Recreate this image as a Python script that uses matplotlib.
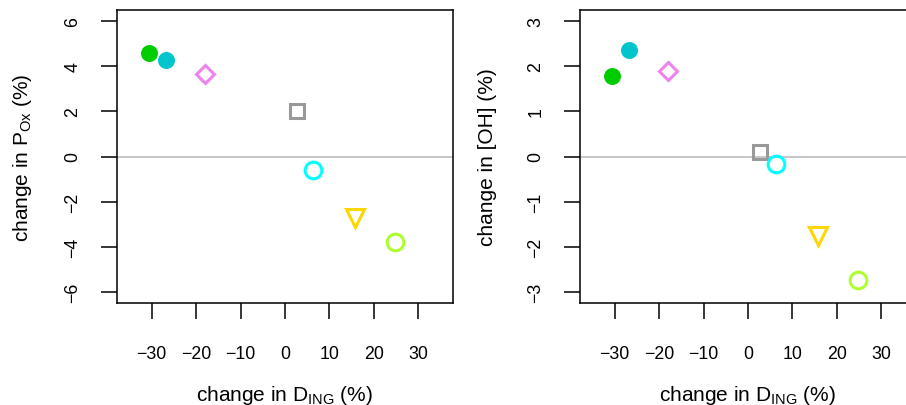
import matplotlib
matplotlib.use("Agg")
import matplotlib.pyplot as plt

plt.rcParams['font.family'] = ['Liberation Sans', 'DejaVu Sans']
plt.rcParams['mathtext.fontset'] = 'custom'
plt.rcParams['mathtext.rm'] = 'Liberation Sans'
plt.rcParams['mathtext.it'] = 'Liberation Sans'
plt.rcParams['axes.unicode_minus'] = True

# values
d_ing = [-30.6, -26.8, -18.0, 2.6, 6.3, 15.7, 24.8]
p_ox = [4.59, 4.26, 3.63, 2.01, -0.60, -2.70, -3.78]
oh = [1.78, 2.35, 1.89, 0.09, -0.16, -1.75, -2.74]

colors = ['#00CD00', '#00C5CD', '#EE82EE', '#999999', '#00FFFF', '#FFD700', '#ADFF2F']
markers = ['o', 'o', 'D', 's', 'o', 'v', 'o']
filled = [True, True, False, False, False, False, False]
sizes = [10, 10, 9.5, 9.5, 12, 13.5, 12]

xticks = [-30, -20, -10, 0, 10, 20, 30]

fig = plt.figure(figsize=(9.06, 4.06), dpi=100)
ax1 = fig.add_axes([117/906, 102/406, 336/906, 293/406])
ax2 = fig.add_axes([580/906, 102/406, 336/906, 293/406])


def panel(ax, yvals, ylim, yticks, ylabel):
    ax.axhline(0, color='#BEBEBE', lw=1.2, zorder=1)
    for x, y, c, m, f, s in zip(d_ing, yvals, colors, markers, filled, sizes):
        ax.plot(x, y, marker=m, ms=s, mec=c, mfc=c if f else 'none',
                mew=2.2, ls='none', zorder=3)
    ax.set_xlim(-37.8, 37.8)
    ax.set_ylim(ylim)
    ax.set_xticks(xticks)
    ax.set_xticklabels([str(t).replace('-', '\u2212') for t in xticks])
    ax.set_yticks(yticks)
    ax.set_yticklabels([str(t).replace('-', '\u2212') for t in yticks],
                       rotation=90, va='center')
    ax.tick_params(axis='x', length=11.5, width=1.1, pad=19, labelsize=12.8)
    ax.tick_params(axis='y', length=11.5, width=1.1, pad=14, labelsize=12.8)
    for sp in ax.spines.values():
        sp.set_linewidth(1.1)
    ax.set_xlabel('change in D$_{\\mathrm{ING}}$ (%)', fontsize=15, labelpad=15)
    ax.set_ylabel(ylabel, fontsize=15, labelpad=22)


panel(ax1, p_ox, (-6.48, 6.48), [-6, -4, -2, 0, 2, 4, 6],
      'change in P$_{\\mathrm{Ox}}$ (%)')
panel(ax2, oh, (-3.24, 3.24), [-3, -2, -1, 0, 1, 2, 3],
      'change in [OH] (%)')

fig.savefig('out.png', dpi=100)
